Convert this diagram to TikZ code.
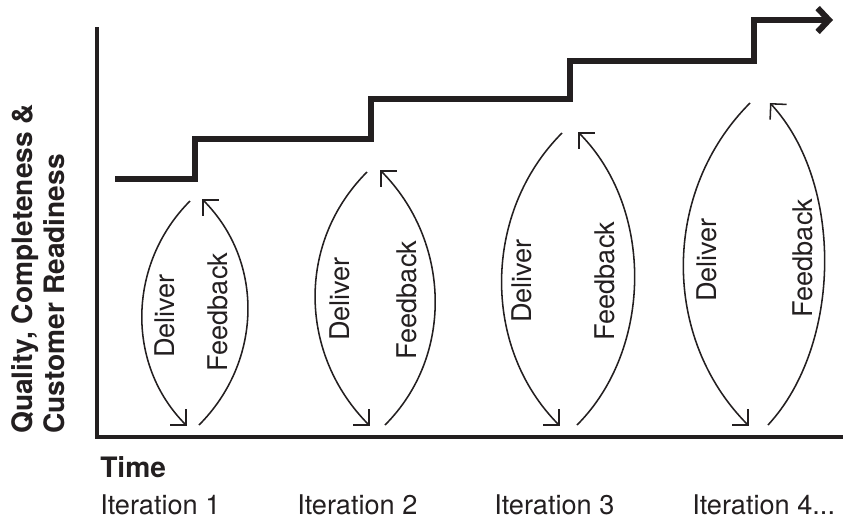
\documentclass[tikz,border=0pt]{standalone}
\usepackage{fontspec}
\setmainfont{TeX Gyre Heros}
\usetikzlibrary{arrows.meta}
\definecolor{ink}{HTML}{231F20}
\begin{document}
\begin{tikzpicture}[x=0.025cm,y=-0.025cm,
    axis/.style={draw=ink,line width=2.8pt},
    stair/.style={draw=ink,line width=4.3pt,-{Straight Barb[length=8pt,width=17pt]}},
    loop/.style={draw=ink,line width=1.1pt,-{Straight Barb[length=8pt,width=16pt]}},
    lbl/.style={text=ink,inner sep=0pt,font=\fontsize{19.3}{21}\selectfont},
    bold lbl/.style={text=ink,inner sep=0pt,font=\fontsize{20}{22.7}\selectfont\bfseries}]
    \useasboundingbox (0,0) rectangle (843,521);
    % axes
    \coordinate (ytop) at (97,27);
    \coordinate (xend) at (843,437);
    \draw[axis] (ytop) |- (xend);
    \node[bold lbl,rotate=90,align=left,anchor=north west] (quality) at (11,434) {Quality, Completeness \&\\Customer Readiness};
    \node[bold lbl,anchor=base west] (time) at (100,477) {Time};
    % staircase
    \draw[stair] (115,179) -| (195,139) -| (371,99) -| (570,61) -| (754,20) -- (833,20);
    % iteration 1
    \coordinate (d1a) at (190,201); \coordinate (d1b) at (187,426);
    \coordinate (f1a) at (199,425); \coordinate (f1b) at (202,199);
    \draw[loop] (d1a) .. controls +(-62,62) and +(-62,-62) .. (d1b);
    \draw[loop] (f1a) .. controls +(63,-63) and +(63,63) .. (f1b);
    \node[lbl,rotate=90] (del1) at (165,316) {Deliver};
    \node[lbl,rotate=90] (feed1) at (218,312) {Feedback};
    % iteration 2
    \coordinate (d2a) at (367,172); \coordinate (d2b) at (370,426);
    \coordinate (f2a) at (385,425); \coordinate (f2b) at (380,170);
    \draw[loop] (d2a) .. controls +(-71,71) and +(-71,-71) .. (d2b);
    \draw[loop] (f2a) .. controls +(70,-70) and +(70,70) .. (f2b);
    \node[lbl,rotate=90] (del2) at (340,299) {Deliver};
    \node[lbl,rotate=90] (feed2) at (407,300) {Feedback};
    % iteration 3
    \coordinate (d3a) at (562,133); \coordinate (d3b) at (560,426);
    \coordinate (f3a) at (577,425); \coordinate (f3b) at (578,132);
    \draw[loop] (d3a) .. controls +(-79,79) and +(-79,-79) .. (d3b);
    \draw[loop] (f3a) .. controls +(76,-76) and +(76,76) .. (f3b);
    \node[lbl,rotate=90] (del3) at (522,281) {Deliver};
    \node[lbl,rotate=90] (feed3) at (605,281) {Feedback};
    % iteration 4
    \coordinate (d4a) at (750,103); \coordinate (d4b) at (749,426);
    \coordinate (f4a) at (768,425); \coordinate (f4b) at (770,103);
    \draw[loop] (d4a) .. controls +(-88,88) and +(-88,-88) .. (d4b);
    \draw[loop] (f4a) .. controls +(74,-80) and +(74,80) .. (f4b);
    \node[lbl,rotate=90] (del4) at (707,260) {Deliver};
    \node[lbl,rotate=90] (feed4) at (803,258) {Feedback};
    % iteration labels
    \node[lbl,anchor=base west] (it1) at (100,514) {Iteration 1};
    \node[lbl,anchor=base west] (it2) at (297,514) {Iteration 2};
    \node[lbl,anchor=base west] (it3) at (494,514) {Iteration 3};
    \node[lbl,anchor=base west] (it4) at (692,514) {Iteration 4...};
\end{tikzpicture}
\end{document}
